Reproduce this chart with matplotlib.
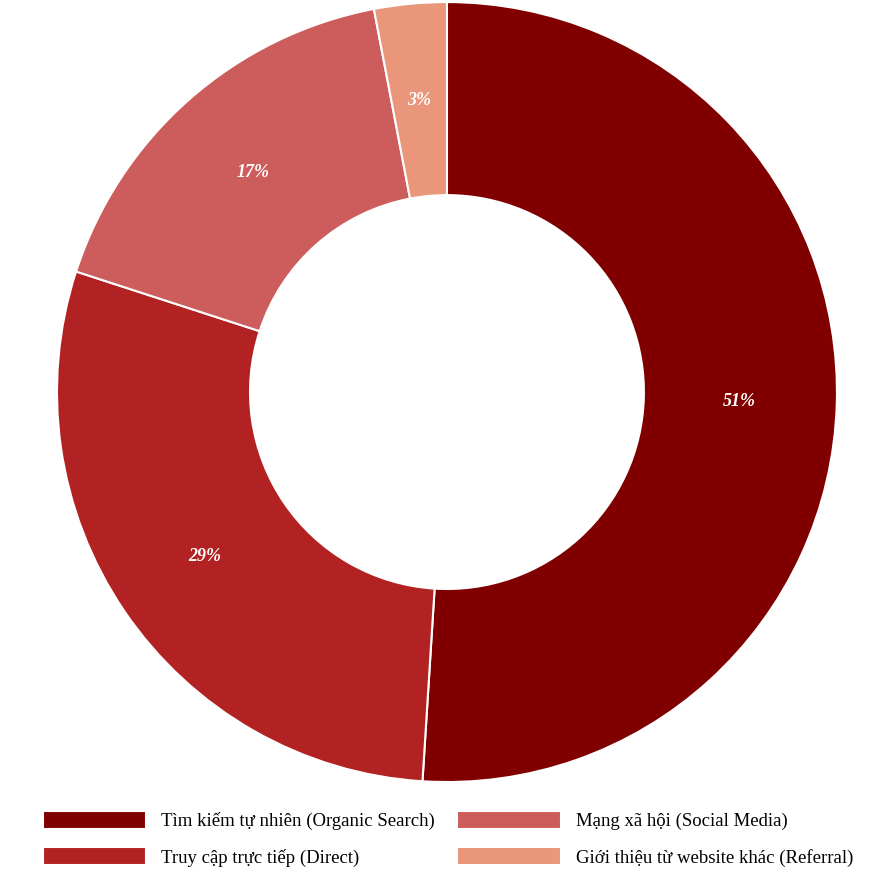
import matplotlib
matplotlib.use("Agg")
import matplotlib.pyplot as plt

labels = ["Tìm kiếm tự nhiên (Organic Search)", "Truy cập trực tiếp (Direct)",
          "Mạng xã hội (Social Media)", "Giới thiệu từ website khác (Referral)"]
values = [51, 29, 17, 3]
colors = ["#800000", "#B22222", "#CD5C5C", "#E9967A"]

plt.rcParams['font.family'] = ['Liberation Serif', 'DejaVu Serif']
fig = plt.figure(figsize=(8.96, 8.96), dpi=100)
ax = fig.add_axes([0.0636, 0.1272, 0.8705, 0.8705])
wedges, texts, autotexts = ax.pie(values, colors=colors, startangle=90, counterclock=False,
       radius=1, wedgeprops=dict(width=0.495, edgecolor='white', linewidth=1.5),
       autopct='%d%%', pctdistance=0.75,
       textprops=dict(color='white', fontsize=13, fontweight='bold', fontstyle='italic'))
ax.set_xlim(-1, 1); ax.set_ylim(-1, 1)
ax.set_aspect('equal')
ax.axis('off')
fig.legend(wedges, labels, loc='center', bbox_to_anchor=(0.5, 0.064), ncol=2,
           frameon=False, fontsize=13.5, handlelength=5.5, handleheight=1.1,
           columnspacing=1.2, labelspacing=0.9, handletextpad=0.8)
fig.savefig("out.png", dpi=100)
